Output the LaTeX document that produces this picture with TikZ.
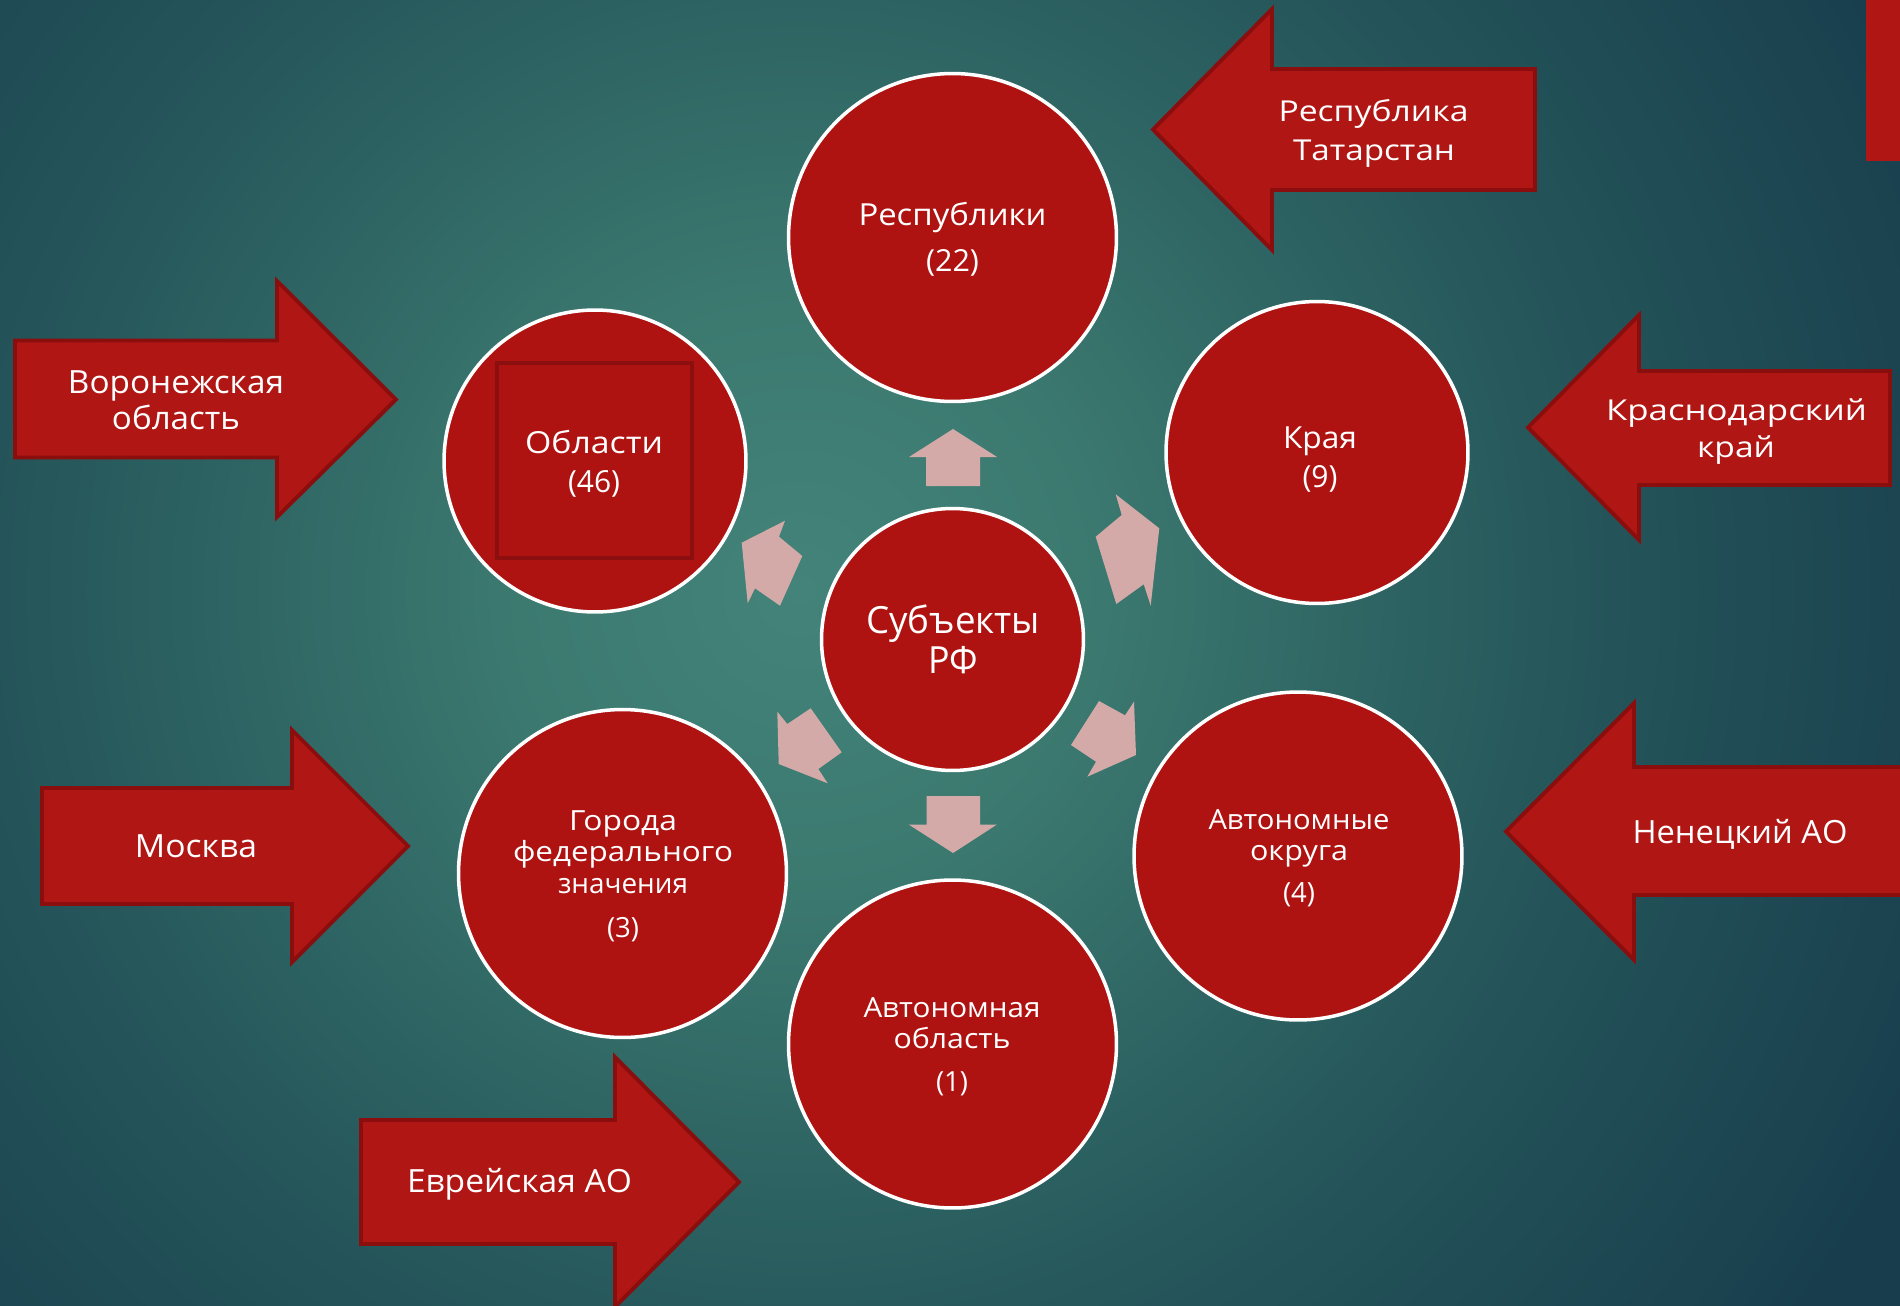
\documentclass[tikz,border=0pt]{standalone}
\usepackage{fontspec}
\setmainfont{Open Sans}
\usepackage{graphicx}
\newlength\pxu
\setlength\pxu{0.02cm}
\newcommand{\fw}[2]{\resizebox{#1\pxu}{\height}{#2}}
\definecolor{bgA}{HTML}{43837A}
\definecolor{bgB}{HTML}{3C7A70}
\definecolor{bgC}{HTML}{2C6161}
\definecolor{bgD}{HTML}{245459}
\definecolor{bgE}{HTML}{183E4D}
\definecolor{cred}{HTML}{AE1311}
\definecolor{ared}{HTML}{B01614}
\definecolor{adark}{HTML}{8A0E0E}
\definecolor{sqdark}{HTML}{8C0F0F}
\definecolor{pinkA}{HTML}{D4AAA9}
\pgfdeclareradialshading{bgshade}{\pgfpoint{0bp}{0bp}}{color(0bp)=(bgA); color(5bp)=(bgB); color(11bp)=(bgC); color(14.5bp)=(bgD); color(22bp)=(bgE); color(50bp)=(bgE)}
\tikzset{
  circ/.style={circle, fill=cred, draw=white, line width=2pt, inner sep=0pt, minimum size=#1},
  bigarrow/.style={fill=ared, draw=adark, line width=2.2pt, line join=miter},
  pinkarrow/.style={fill=pinkA},
  lbl/.style={text=white, inner sep=0pt, anchor=base},
  fA/.style={font=\fontsize{17.3}{20}\selectfont},
  fB/.style={font=\fontsize{15.8}{19}\selectfont},
  fC/.style={font=\fontsize{21.3}{25}\selectfont},
  fD/.style={font=\fontsize{16.4}{19}\selectfont},
  fE/.style={font=\fontsize{18.2}{21}\selectfont}
}
\begin{document}
\begin{tikzpicture}[x=0.02cm, y=-0.02cm]
\useasboundingbox (0,0) rectangle (1900,1305);
\clip (0,0) rectangle (1900,1305);
% background
\fill[bgE] (0,0) rectangle (1900,1305);
\fill[shading=bgshade] (800,590) circle (1400);

% corner bar
\fill[ared] (1866,-10) rectangle (1910,161);

% big red arrows
\draw[bigarrow] (1153,129.5) -- (1272,9) -- (1272,69) -- (1535,69) -- (1535,190) -- (1272,190) -- (1272,250) -- cycle;
\draw[bigarrow] (1528,427.5) -- (1639,315) -- (1639,371) -- (1890,371) -- (1890,485) -- (1639,485) -- (1639,540) -- cycle;
\draw[bigarrow] (1506,831.5) -- (1634,703) -- (1634,767) -- (1920,767) -- (1920,895) -- (1634,895) -- (1634,960) -- cycle;
\draw[bigarrow] (396,399.5) -- (277,281) -- (277,340.5) -- (15,340.5) -- (15,457.5) -- (277,457.5) -- (277,517) -- cycle;
\draw[bigarrow] (408,846) -- (292,730) -- (292,788) -- (42,788) -- (42,904) -- (292,904) -- (292,962) -- cycle;
\draw[bigarrow] (739,1182) -- (615,1057) -- (615,1120) -- (361,1120) -- (361,1244) -- (615,1244) -- (615,1307) -- cycle;

% pink arrows
\fill[pinkarrow] (953,429) -- (997,457) -- (980,457) -- (980,486) -- (926,486) -- (926,457) -- (909,457) -- cycle;
\fill[pinkarrow] (953,853) -- (997,824.5) -- (980,824.5) -- (980,796) -- (926.5,796) -- (926.5,824.5) -- (908.7,824.5) -- cycle;
\fill[pinkarrow] (1159.3,528.3) -- (1115.7,494.3) -- (1121.7,515) -- (1095.7,536.7) -- (1116.3,604) -- (1143.7,584.3) -- (1150.7,605.7) -- cycle;
\fill[pinkarrow] (741.7,542.7) -- (785,520.7) -- (779,536.7) -- (802.3,556) -- (780,605.7) -- (755,588.3) -- (747.7,603.3) -- cycle;
\fill[pinkarrow] (777.3,711.7) -- (787.3,724) -- (810.7,708.3) -- (841.7,752.3) -- (818.3,769) -- (827.7,783.3) -- (778.7,764) -- cycle;
\fill[pinkarrow] (1099,701) -- (1125,715.3) -- (1134,701.7) -- (1136,755) -- (1087.3,776.7) -- (1096,761.7) -- (1071,745) -- cycle;

% circles
\node[circ=6.56cm] (rep) at (952.5,237.5) {};
\node[circ=6.04cm] (obl) at (595,461) {};
\node[circ=6.04cm] (kra) at (1317,452.5) {};
\node[circ=5.24cm] (sub) at (952.5,639.5) {};
\node[circ=6.56cm] (gor) at (622.5,873.5) {};
\node[circ=6.56cm] (aob) at (952.5,1044) {};
\node[circ=6.56cm] (aok) at (1298,856) {};
\node[draw=sqdark, fill=cred, line width=1.8pt, minimum width=3.9cm, minimum height=3.9cm, inner sep=0pt] (sq) at (594.5,460.5) {};

% circle texts
\node[lbl, fA] (rep1) at (952.5,225) {\fw{188}{Республики}};
\node[lbl, fA] (rep2) at (952.5,271.7) {\fw{53}{(22)}};
\node[lbl, fA] (obl1) at (594,453) {\fw{138}{Области}};
\node[lbl, fA] (obl2) at (594,492) {\fw{52}{(46)}};
\node[lbl, fA] (kra1) at (1320,448) {\fw{74}{Края}};
\node[lbl, fA] (kra2) at (1320,487) {\fw{35}{(9)}};
\node[lbl, fC] (sub1) at (953,633) {\fw{174}{Субъекты}};
\node[lbl, fC] (sub2) at (953,673) {\fw{50}{РФ}};
\node[lbl, fB] (gor1) at (623,830) {\fw{108}{Города}};
\node[lbl, fB] (gor2) at (623,861) {\fw{220}{федерального}};
\node[lbl, fB] (gor3) at (623,893) {\fw{130}{значения}};
\node[lbl, fB] (gor4) at (623,937) {\fw{32}{(3)}};
\node[lbl, fB] (aob1) at (952,1017) {\fw{177}{Автономная}};
\node[lbl, fB] (aob2) at (952,1048) {\fw{117}{область}};
\node[lbl, fB] (aob3) at (952,1091) {\fw{32}{(1)}};
\node[lbl, fB] (aok1) at (1299,829) {\fw{181}{Автономные}};
\node[lbl, fB] (aok2) at (1299,860) {\fw{98}{округа}};
\node[lbl, fB] (aok3) at (1299,902) {\fw{32}{(4)}};

% arrow texts
\node[lbl, fD] (tat1) at (1373.5,121) {\fw{190}{Республика}};
\node[lbl, fD] (tat2) at (1374,160) {\fw{162}{Татарстан}};
\node[lbl, fD] (krd1) at (1736.5,420) {\fw{261}{Краснодарский}};
\node[lbl, fD] (krd2) at (1736,457) {\fw{78}{край}};
\node[lbl, fE] (vor1) at (176,393) {\fw{216}{Воронежская}};
\node[lbl, fE] (vor2) at (176,429) {\fw{128}{область}};
\node[lbl, fE] (msk) at (196,857) {\fw{122}{Москва}};
\node[lbl, fE] (evr) at (519.5,1192) {\fw{225}{Еврейская АО}};
\node[lbl, fE] (nen) at (1740,843) {\fw{215}{Ненецкий АО}};
\end{tikzpicture}
\end{document}
